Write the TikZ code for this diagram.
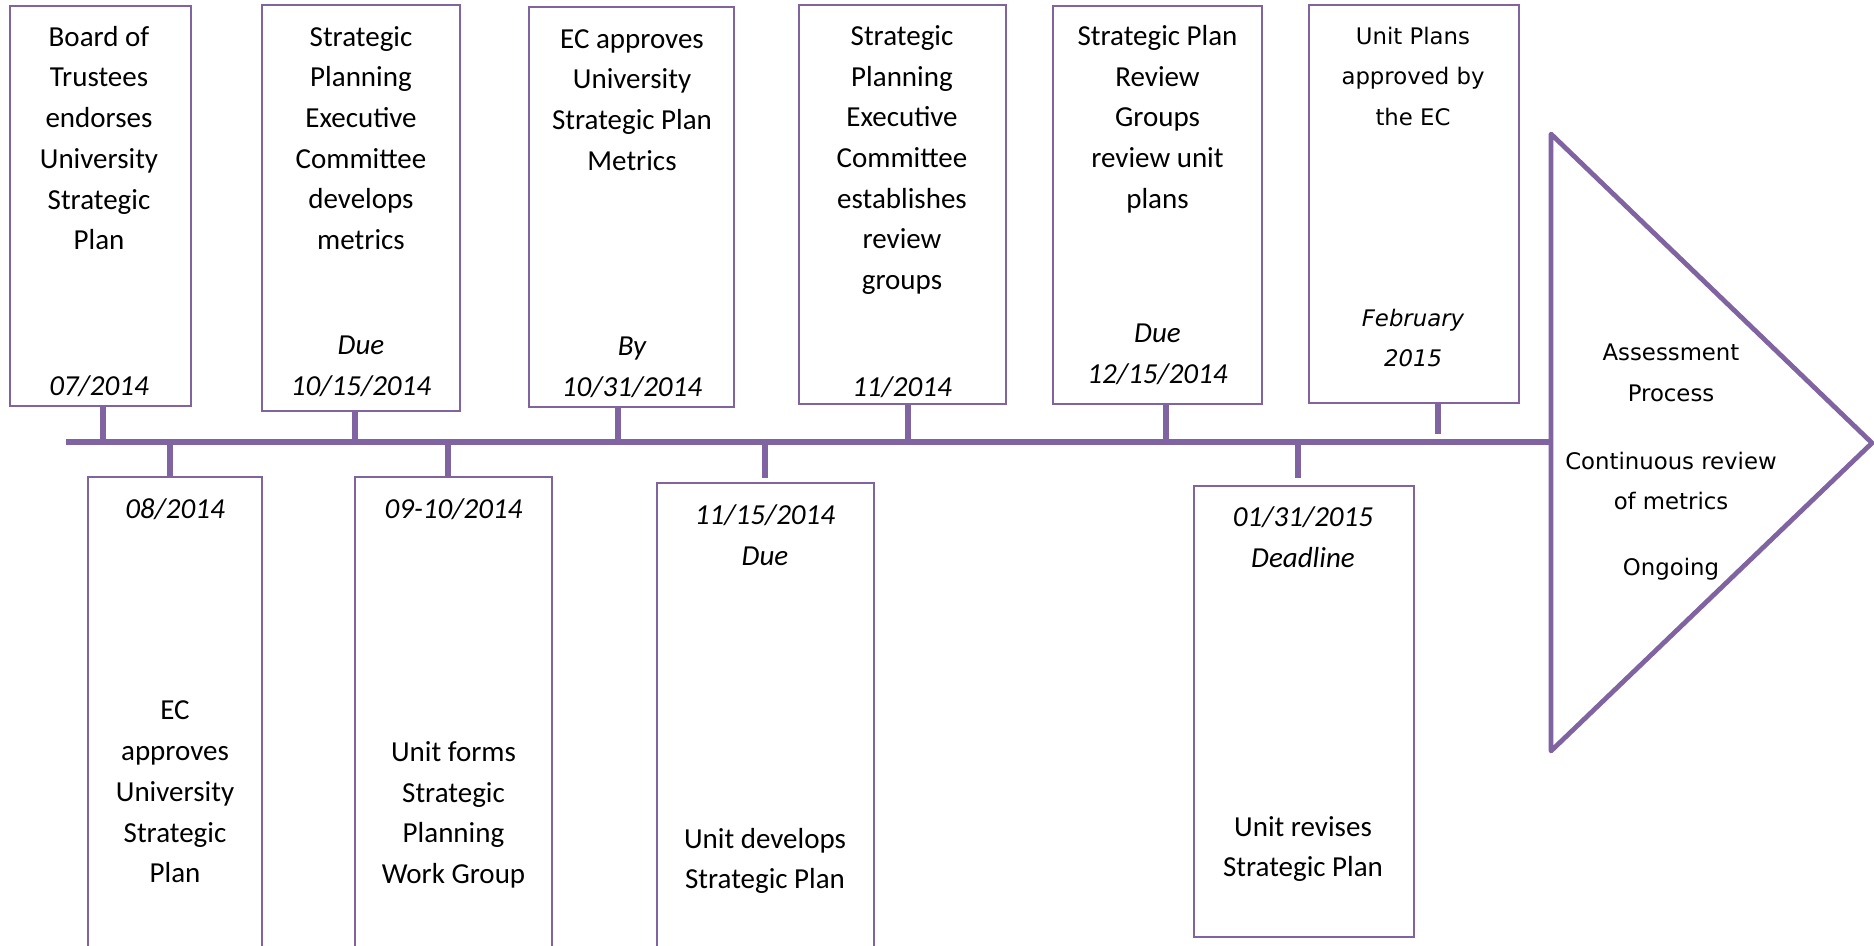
\documentclass[tikz,border=0pt]{standalone}
\usepackage{fontspec}
\setmainfont{Carlito}
\newfontfamily\wideface{DejaVu Sans}
\usepackage{tikz}
\definecolor{plum}{HTML}{8064A2}

\begin{document}
\begin{tikzpicture}[x=0.5pt, y=-0.5pt,
  stage/.style={draw=plum, line width=1.1pt, inner sep=0pt},
  tick/.style={draw=plum, line width=2.6pt},
  txt/.style={align=center, inner sep=0pt, font=\fontsize{14.5}{20.35}\selectfont},
  due/.style={txt, font=\fontsize{14.5}{20.35}\selectfont\itshape},
  wtxt/.style={align=center, inner sep=0pt, font=\wideface\fontsize{11.4}{20.25}\selectfont},
  wdue/.style={wtxt, font=\wideface\fontsize{11.4}{20.25}\selectfont\itshape}]
  \clip (0,0) rectangle (1874,946);

  \node[stage, minimum width=90.5pt, minimum height=200pt] (brd) at (100.5,206) {};
  \node[stage, minimum width=99pt, minimum height=203pt] (spm) at (361,208) {};
  \node[stage, minimum width=102.5pt, minimum height=200pt] (ecm) at (631.5,207) {};
  \node[stage, minimum width=103.5pt, minimum height=199.5pt] (rvg) at (902.5,204.5) {};
  \node[stage, minimum width=104.5pt, minimum height=199pt] (urv) at (1157.5,205) {};
  \node[stage, minimum width=105pt, minimum height=199pt] (uap) at (1414,204) {};
  \node[stage, minimum width=87pt, minimum height=241.5pt] (ecu) at (175,718.5) {};
  \node[stage, minimum width=98.5pt, minimum height=241.5pt] (wkg) at (453.5,718.5) {};
  \node[stage, minimum width=108.5pt, minimum height=238.5pt] (udv) at (765.5,721.5) {};
  \node[stage, minimum width=110pt, minimum height=225.5pt] (rev) at (1304,711.5) {};

  \coordinate (trtop) at (1551,134);
  \coordinate (trtip) at (1872,443);
  \coordinate (trbot) at (1551,751);
  \coordinate (tl0) at (66,442);
  \draw[plum, line width=3.2pt] (tl0) -- (tl0 -| trtop);
  \draw[plum, line width=2.4pt, line join=round] (trtop) -- (trtip) -- (trbot) -- cycle;

  \foreach \b/\x/\g in {brd/103/0, spm/355/0, ecm/618/0, rvg/908/0, urv/1166/0, uap/1438/4}{
    \coordinate (t\b) at (\x,442);
    \draw[tick, shorten <=\g pt] (t\b) -- (t\b |- \b.south);
  }
  \foreach \b/\x/\g in {ecu/170/0, wkg/448/0, udv/765/2, rev/1298/3.5}{
    \coordinate (t\b) at (\x,442);
    \draw[tick, shorten >=\g pt] (t\b) -- (t\b |- \b.north);
  }

  \node[txt] (brd-t) at (99,138) {Board of\\Trustees\\endorses\\University\\Strategic\\Plan};
  \node[due] (brd-d) at (99,386) {07/2014};
  \node[txt] (spm-t) at (361,138) {Strategic\\Planning\\Executive\\Committee\\develops\\metrics};
  \node[due] (spm-d) at (361,366.5) {Due\\10/15/2014};
  \node[txt] (ecm-t) at (632,100) {EC approves\\University\\Strategic Plan\\Metrics};
  \node[due] (ecm-d) at (632,367.5) {By\\10/31/2014};
  \node[txt] (rvg-t) at (902,160) {Strategic\\Planning\\Executive\\Committee\\establishes\\review\\groups};
  \node[due] (rvg-d) at (902,387) {11/2014};
  \node[txt] (urv-t) at (1157.5,119) {Strategic Plan\\Review\\Groups\\review unit\\plans};
  \node[due] (urv-d) at (1157.5,354) {Due\\12/15/2014};
  \node[wtxt] (uap-t) at (1413,76.5) {Unit Plans\\approved by\\the EC};
  \node[wdue] (uap-d) at (1413,338) {February\\2015};

  \node[due] (ecu-d) at (175,509) {08/2014};
  \node[txt] (ecu-t) at (175,792) {EC\\approves\\University\\Strategic\\Plan};
  \node[due] (wkg-d) at (453.5,509) {09-10/2014};
  \node[txt] (wkg-t) at (453.5,815) {Unit forms\\Strategic\\Planning\\Work Group};
  \node[due] (udv-d) at (765,535) {11/15/2014\\Due};
  \node[txt] (udv-t) at (765,861) {Unit develops\\Strategic Plan};
  \node[due] (rev-d) at (1303,537) {01/31/2015\\Deadline};
  \node[txt] (rev-t) at (1303,849) {Unit revises\\Strategic Plan};

  \node[wtxt] (asm) at (1671,373) {Assessment\\Process};
  \node[wtxt] (crm) at (1671,481) {Continuous review\\of metrics};
  \node[wtxt] (ong) at (1671,569) {Ongoing};
\end{tikzpicture}
\end{document}
